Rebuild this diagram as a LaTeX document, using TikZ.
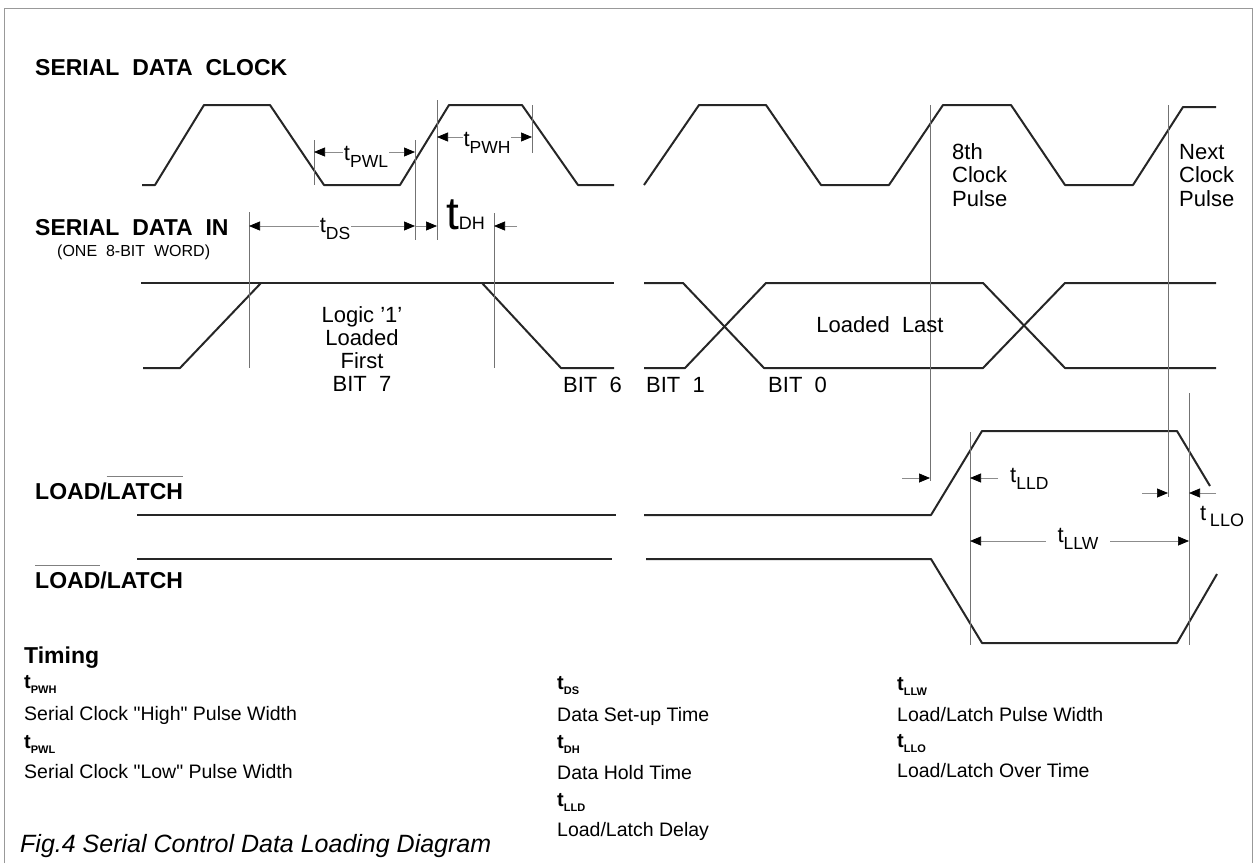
\documentclass[tikz,border=0pt]{standalone}
\usepackage{fontspec}
\setmainfont{Liberation Sans}
\usetikzlibrary{arrows.meta}

\tikzset{
  wave/.style={line width=2pt, draw=black!85, line join=round},
  guide/.style={line width=0.7pt, draw=black!55},
  dimline/.style={line width=0.7pt, draw=black!45, >={Triangle[length=11pt,width=9pt,color=black]}, <->},
  tipin/.style={line width=0.7pt, draw=black!45, >={Triangle[length=11pt,width=9pt,color=black]}, ->},
  sig/.style={font=\fontsize{23}{23}\selectfont\bfseries, anchor=base west, inner sep=0pt},
  lab/.style={font=\fontsize{22}{23}\selectfont, inner sep=1pt},
  leg/.style={font=\fontsize{19.5}{20}\selectfont, anchor=base west, inner sep=0pt},
}
\newcommand{\tsb}[1]{t\raisebox{-7pt}{\fontsize{17.5}{17.5}\selectfont #1}}
\newcommand{\tleg}[1]{\textbf{\fontsize{20}{20}\selectfont t\raisebox{-5pt}{\fontsize{11}{11}\selectfont #1}}}
\newcommand{\ovbar}[1]{\setbox0=\hbox{#1}\rlap{\color{black!50}\rule[\dimexpr\ht0+6pt\relax]{\wd0}{0.9pt}}\box0}

\begin{document}
\begin{tikzpicture}[x=1pt,y=-1pt]
    \useasboundingbox (0,0) rectangle (1258,863);

    % Frame
    \draw[black!40, line width=0.8pt] (4,863) -- (4,8) -- (1252,8) -- (1252,863);

    % Signal names
    \node[sig] (clkname) at (35,75) {SERIAL\ \ DATA\ \ CLOCK};
    \node[sig] (dinname) at (35,235) {SERIAL\ \ DATA\ \ IN};
    \node[anchor=base west, inner sep=0pt, font=\fontsize{16}{16}\selectfont] (wordname) at (57,256) {(ONE\ \ 8-BIT\ \ WORD)};
    \node[sig] (llname) at (35,499) {LOAD/\ovbar{LATCH}};
    \node[sig] (nllname) at (35,588) {\ovbar{LOAD}/LATCH};

    % Clock
    \draw[wave] (142,185) -- (155,185) -- (204,105) -- (270,105) -- (324,185) -- (400,185)
        -- (449,105) -- (522,105) -- (578,185) -- (614,185);
    \draw[wave] (644,185) -- (699,105) -- (766,105) -- (821,185) -- (889,185) -- (943,105)
        -- (1011,105) -- (1065,185) -- (1133,185) -- (1183,107) -- (1216,107);

    % Data in
    \draw[wave] (141,283) -- (614,283);
    \draw[wave] (143,368) -- (180,368) -- (261,283);
    \draw[wave] (482,283) -- (561,368) -- (614,368);
    \draw[wave] (644,283) -- (683,283) -- (764,368) -- (983,368) -- (1065,283) -- (1216,283);
    \draw[wave] (644,368) -- (685,368) -- (766,283) -- (983,283) -- (1065,368) -- (1216,368);

    % Load / latch
    \draw[wave] (137,515) -- (616,515);
    \draw[wave] (644,515) -- (931,515) -- (982,431) -- (1177,431) -- (1210,486);
    \draw[wave] (137,559) -- (612,559);
    \draw[wave] (646,559) -- (931,559) -- (982,643) -- (1177,643) -- (1217,574);

    % Guide lines
    \foreach \x/\ya/\yb in {314/140/185, 415/140/240, 437/100/240, 532/105/153,
                            249/212/368, 494/213/368, 930/105/481, 1168/105/497,
                            970/432/645, 1189/393/645} {
        \draw[guide] (\x,\ya) -- (\x,\yb);
    }

    % Waveform texts
    \foreach \w [count=\i from 0] in {Logic '1', Loaded, First, BIT\ \ 7} {
        \node[lab, anchor=base, inner sep=0pt] (first\i) at (362,322+23.3*\i) {\w};
    }
    \node[lab, anchor=base west, inner sep=0pt] (bitsix) at (563,392) {BIT\ \ 6};
    \node[lab, anchor=base west, inner sep=0pt] (bitone) at (646,392) {BIT\ \ 1};
    \node[lab, anchor=base west, inner sep=0pt] (bitzero) at (768,392) {BIT\ \ 0};
    \node[lab, anchor=base, inner sep=0pt] (last) at (880,332) {Loaded\ \ Last};
    \foreach \w [count=\i from 0] in {8th, Clock, Pulse} {
        \node[lab, anchor=base west, inner sep=0pt] (eighth\i) at (952,159+23.5*\i) {\w};
    }
    \foreach \w [count=\i from 0] in {Next, Clock, Pulse} {
        \node[lab, anchor=base west, inner sep=0pt] (next\i) at (1179,159+23.5*\i) {\w};
    }

    % Timing arrows
    \coordinate (pwlL) at (314,152);  \coordinate (pwlR) at (415,152);
    \coordinate (pwhL) at (437,137);  \coordinate (pwhR) at (532,137);
    \coordinate (dsL) at (249,226);   \coordinate (dsR) at (415,226);
    \coordinate (dhA) at (416,226);   \coordinate (dhB) at (437,226);
    \coordinate (dhC) at (517,226);   \coordinate (dhD) at (494,226);
    \coordinate (lldA) at (902,478);  \coordinate (lldB) at (930,478);
    \coordinate (lldC) at (998,478);  \coordinate (lldD) at (970,478);
    \coordinate (lloA) at (1142,493); \coordinate (lloB) at (1168,493);
    \coordinate (lloC) at (1216,493); \coordinate (lloD) at (1189,493);
    \coordinate (llwL) at (970,541);  \coordinate (llwR) at (1189,541);

    \draw[dimline] (pwlL) -- (pwlR);
    \node[lab, fill=white, anchor=base] (tpwl) at (366,160) {\tsb{PWL}};
    \draw[dimline] (pwhL) -- (pwhR);
    \node[lab, fill=white, anchor=base] (tpwh) at (487,146) {\tsb{PWH}};
    \draw[dimline] (dsL) -- (dsR);
    \node[lab, fill=white, anchor=base] (tds) at (335,232) {\tsb{DS}};
    \draw[tipin] (dhA) -- (dhB);
    \draw[tipin] (dhC) -- (dhD);
    \node[anchor=base west, inner sep=0pt] (tdh) at (446,229)
        {{\fontsize{46}{46}\selectfont t}{\fontsize{18}{18}\selectfont DH}};
    \draw[tipin] (lldA) -- (lldB);
    \draw[tipin] (lldC) -- (lldD);
    \node[lab, anchor=base west, inner sep=0pt] (tlld) at (1010,482) {\tsb{LLD}};
    \draw[tipin] (lloA) -- (lloB);
    \draw[tipin] (lloC) -- (lloD);
    \node[lab, anchor=base west, inner sep=0pt] (tllo) at (1200,520)
        {t\,\raisebox{-6pt}{\fontsize{18}{18}\selectfont LLO}};
    \draw[dimline] (llwL) -- (llwR);
    \node[lab, fill=white, anchor=base, inner xsep=12pt] (tllw) at (1078,542) {\tsb{LLW}};

    % Legend
    \node[sig] (timing) at (24,663) {Timing};
    \foreach \x/\ya/\yb/\k/\d in {
        24/688/720/PWH/{Serial Clock \textquotedbl High\textquotedbl\ Pulse Width},
        24/748/778/PWL/{Serial Clock \textquotedbl Low\textquotedbl\ Pulse Width},
        557/689/721/DS/{Data Set-up Time},
        557/748/779/DH/{Data Hold Time},
        557/806/836/LLD/{Load/Latch Delay},
        897/690/721/LLW/{Load/Latch Pulse Width},
        897/747/777/LLO/{Load/Latch Over Time}} {
        \node[leg] (key\k) at (\x,\ya) {\tleg{\k}};
        \node[leg] (txt\k) at (\x,\yb) {\d};
    }

    % Caption
    \node[anchor=base west, inner sep=0pt, font=\fontsize{25}{25}\selectfont\itshape] (caption)
        at (20,852) {Fig.4 Serial Control Data Loading Diagram};

\end{tikzpicture}
\end{document}
